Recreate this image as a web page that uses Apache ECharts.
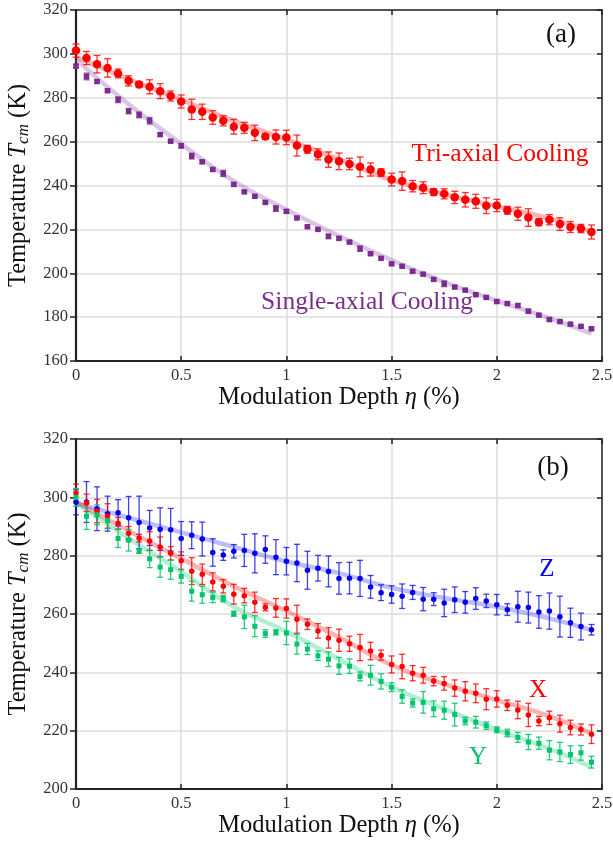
<!DOCTYPE html>
<html>
<head>
<meta charset="utf-8">
<script src="https://cdn.jsdelivr.net/npm/echarts@6/dist/echarts.min.js"></script>
<style>
  html, body { margin: 0; padding: 0; background: #fff; }
  #chart { width: 613px; height: 844px; }
</style>
</head>
<body>
<div id="chart"></div>
<script>
// modulation depth (%)
var depth = [0, 0.05, 0.1, 0.15, 0.2, 0.25, 0.3, 0.35, 0.4, 0.45,
  0.5, 0.55, 0.6, 0.65, 0.7, 0.75, 0.8, 0.85, 0.9, 0.95,
  1, 1.05, 1.1, 1.15, 1.2, 1.25, 1.3, 1.35, 1.4, 1.45,
  1.5, 1.55, 1.6, 1.65, 1.7, 1.75, 1.8, 1.85, 1.9, 1.95,
  2, 2.05, 2.1, 2.15, 2.2, 2.25, 2.3, 2.35, 2.4, 2.45]

// tri-axial cooling (also the X axis curve in (b))
var tempTri = [301.5, 298.1, 295.3, 293.6, 291.1, 287.7, 286, 285, 283, 280.8,
  278.3, 274.7, 273.6, 271, 269.5, 266.8, 266.3, 264, 262.3, 262.1,
  261.9, 258.2, 256.5, 254.2, 251.8, 251, 249.8, 248.5, 247.3, 245.9,
  242.7, 242, 239.7, 239, 237, 236.2, 234.6, 233.5, 232.8, 230.8,
  230.9, 228.7, 227.1, 225.4, 223.3, 224.4, 222.4, 221.1, 220.4, 218.8]
var errTri = [3, 3, 4, 4.2, 2, 2.3, 1.3, 3.2, 3.4, 2.3,
  3, 4.6, 3.5, 3.1, 2.3, 3.4, 2.5, 3.5, 1.2, 3.2,
  3.3, 4.8, 1.8, 2.5, 3.5, 3.8, 2.6, 4.5, 3, 1.7,
  2.9, 4.2, 2.6, 2.7, 1.6, 2.3, 2.8, 3.3, 3.2, 3.6,
  2.8, 1.8, 3, 4, 1.6, 2.3, 2.9, 2.5, 1.9, 3.2]

// single-axial cooling
var tempSingle = [294.4, 289.7, 287.4, 283.2, 279.1, 273.9, 272.2, 269.5, 263.2, 260.2,
  258.1, 253.4, 250.8, 247.3, 245.5, 240.5, 237.1, 235.1, 232.3, 229.5,
  228.2, 225.2, 221.2, 220, 216.8, 215.9, 214.2, 211.2, 208.9, 206.8,
  204.3, 203.2, 200.9, 199.6, 197.2, 195.2, 193.7, 192.3, 190.2, 189,
  187.1, 186.2, 185.3, 182.7, 180.9, 178.9, 178, 176.8, 175.8, 174.7]
var errSingle = [0.8, 1.5, 0.6, 0.6, 1.3, 1.2, 1.3, 1.5, 0.7, 0.6,
  1, 1.3, 0.7, 0.6, 1.4, 0.8, 0.6, 0.5, 0.6, 1.3,
  0.8, 0.6, 0.5, 0.5, 1, 0.6, 0.5, 1.2, 0.6, 0.5,
  0.5, 0.5, 0.6, 0.6, 0.5, 1.3, 0.6, 0.5, 0.5, 0.5,
  0.5, 0.5, 0.8, 0.9, 0.5, 0.5, 0.5, 0.5, 0.5, 0.5]

// Z axis
var tempZ = [298.3, 298.4, 296.1, 294.4, 294.7, 293, 291.4, 289.5, 289.1, 288.9,
  285.9, 287, 285.7, 281.1, 280.2, 281.5, 281.8, 280.8, 282.1, 279.5,
  278.1, 277.5, 275, 275.7, 274.6, 272.2, 272.3, 272.2, 269.3, 267.3,
  266.7, 266.1, 267.4, 265.1, 265.1, 263.8, 264.9, 264, 265.3, 264.5,
  263.2, 261.5, 262.5, 262.2, 260.7, 261, 259.1, 257, 255.7, 254.6]
var errZ = [4.3, 7, 7.5, 6, 4.5, 7.3, 9, 6, 7.3, 7.3,
  5.8, 4.6, 5.8, 4.7, 1.8, 2.3, 5.5, 6.7, 4.7, 6,
  4.7, 6.4, 6.5, 4.4, 5.3, 5.4, 5.4, 6.2, 3.9, 2.7,
  3, 4.2, 2.4, 4, 2.2, 4.7, 4.4, 3.7, 3.7, 2.3,
  3.5, 2, 5.3, 5.3, 5.6, 6.2, 7, 5, 4.6, 1.8]

// Y axis
var tempY = [300, 293.5, 294, 292, 285.9, 285.3, 281.6, 278.9, 276.1, 275.2,
  272.9, 267.8, 266.6, 265.7, 265.3, 260.1, 259, 255.8, 253.3, 253.7,
  253.5, 249.7, 248, 245.7, 244.5, 242.2, 242.1, 238.6, 239, 236.9,
  234.9, 231.7, 229.5, 229.7, 227.5, 227, 225.5, 223.3, 222.9, 221.7,
  220.3, 219.2, 217.7, 216.1, 215.7, 213.3, 212.7, 211.8, 212.4, 209.2]
var errY = [3, 4.5, 3.4, 2.7, 3.1, 3.7, 0.8, 3, 3.5, 3.3,
  2.3, 3.4, 2.9, 1.8, 1.1, 0.9, 4, 3.6, 1.3, 0.9,
  4, 3.4, 1.9, 1.6, 2.5, 2.9, 2.5, 1.5, 3.4, 2.6,
  1.5, 2.3, 1.4, 3.7, 2.7, 3.1, 3.9, 1.3, 2, 1.3,
  1, 1.3, 1.7, 2.6, 2.1, 3.3, 3.3, 3, 2.5, 2]

// fitted curves
var fitDepth = [0, 0.25, 0.5, 0.75, 1, 1.25, 1.5, 1.75, 2, 2.25, 2.45]
var fitTri = [298.5, 288.5, 279, 269.5, 261, 252, 242.5, 236, 230.5, 225, 219]
var fitSingle = [297.5, 277, 259, 242, 229, 217, 206, 196, 187.5, 179.5, 172.5]
var fitZ = [298, 293, 288, 283, 278, 274, 269, 265.5, 262.5, 258.5, 254.5]
var fitY = [298, 286, 274.5, 262.5, 254, 244.5, 235, 227.5, 220.3, 213.8, 207.5]

var FONT = '"Liberation Serif", "DejaVu Serif", serif'

function pairs(xs, ys) {
  return xs.map(function (x, i) { return [x, ys[i]] })
}

function errorSeries(idx, vals, errs, color, cap) {
  return {
    type: 'custom',
    xAxisIndex: idx,
    yAxisIndex: idx,
    z: 3,
    silent: true,
    data: depth.map(function (d, i) { return [d, vals[i] - errs[i], vals[i] + errs[i]] }),
    encode: {x: 0, y: [1, 2]},
    renderItem: function (params, api) {
      var x = api.value(0)
      var lo = api.coord([x, api.value(1)])
      var hi = api.coord([x, api.value(2)])
      var st = {stroke: color, lineWidth: 1.3}
      return {
        type: 'group',
        children: [
          {type: 'line', shape: {x1: lo[0], y1: lo[1], x2: hi[0], y2: hi[1]}, style: st},
          {type: 'line', shape: {x1: lo[0] - cap / 2, y1: lo[1], x2: lo[0] + cap / 2, y2: lo[1]}, style: st},
          {type: 'line', shape: {x1: hi[0] - cap / 2, y1: hi[1], x2: hi[0] + cap / 2, y2: hi[1]}, style: st}
        ]
      }
    }
  }
}

function fitSeries(idx, ys, color) {
  return {
    type: 'line', xAxisIndex: idx, yAxisIndex: idx, z: 2,
    smooth: true, showSymbol: false, silent: true,
    data: pairs(fitDepth, ys),
    lineStyle: {color: color, width: 4.5}
  }
}

function pointSeries(idx, ys, color, symbol, size) {
  return {
    type: 'scatter', xAxisIndex: idx, yAxisIndex: idx, z: 4,
    symbol: symbol, symbolSize: size, silent: true,
    data: pairs(depth, ys),
    itemStyle: {color: color, opacity: 1}
  }
}

var axisText = {fontFamily: FONT, fontSize: 16.5, color: '#333'}
var splitLine = {show: true, lineStyle: {color: '#dcdcdc', width: 1.5}}

function bottomX(idx) {
  return {
    type: 'value', gridIndex: idx, min: 0, max: 2.5, interval: 0.5, position: 'bottom',
    name: '{a|Modulation Depth }{i|η}{a| (%)}',
    nameLocation: 'middle', nameGap: 21,
    nameTextStyle: {rich: {
      a: {fontFamily: FONT, fontSize: 24.5, color: '#111'},
      i: {fontFamily: FONT, fontSize: 24.5, fontStyle: 'italic', color: '#111'}
    }},
    axisLine: {show: true, onZero: false, lineStyle: {color: '#222', width: 2.2}},
    axisTick: {show: true, inside: true, length: 5, lineStyle: {color: '#222', width: 1.5}},
    axisLabel: Object.assign({margin: 6}, axisText),
    splitLine: splitLine
  }
}

function topX(idx) {
  return {
    type: 'value', gridIndex: idx, min: 0, max: 2.5, interval: 0.5, position: 'top',
    axisLine: {show: true, onZero: false, lineStyle: {color: '#222', width: 1.5}},
    axisTick: {show: true, inside: true, length: 5, lineStyle: {color: '#222', width: 1.5}},
    axisLabel: {show: false},
    splitLine: {show: false}
  }
}

function leftY(idx, min, max) {
  return {
    type: 'value', gridIndex: idx, min: min, max: max, interval: 20, position: 'left',
    name: '{a|Temperature }{i|T}{s|cm}{a| (K)}',
    nameLocation: 'middle', nameGap: 44, nameRotate: 90,
    nameTextStyle: {rich: {
      a: {fontFamily: FONT, fontSize: 24.5, color: '#111'},
      i: {fontFamily: FONT, fontSize: 24.5, fontStyle: 'italic', color: '#111'},
      s: {fontFamily: FONT, fontSize: 17, fontStyle: 'italic', color: '#111', padding: [9, 0, 0, 0]}
    }},
    axisLine: {show: true, onZero: false, lineStyle: {color: '#222', width: 2.2}},
    axisTick: {show: true, inside: false, length: 6, lineStyle: {color: '#222', width: 1.5}},
    axisLabel: Object.assign({margin: 8}, axisText),
    splitLine: splitLine
  }
}

function rightY(idx, min, max) {
  return {
    type: 'value', gridIndex: idx, min: min, max: max, interval: 20, position: 'right',
    axisLine: {show: true, onZero: false, lineStyle: {color: '#222', width: 1.5}},
    axisTick: {show: true, inside: true, length: 5, lineStyle: {color: '#222', width: 1.5}},
    axisLabel: {show: false},
    splitLine: {show: false}
  }
}

function label(text, x, y, color, size) {
  return {
    type: 'text', x: x, y: y, z: 10,
    style: {text: text, fill: color, font: size + 'px ' + FONT, align: 'center', verticalAlign: 'middle'}
  }
}

var chart = echarts.init(document.getElementById('chart'))

var option = {
  backgroundColor: '#fff',
  animation: false,
  grid: [
    {left: 76, top: 10, width: 526, height: 351, containLabel: false, outerBoundsMode: 'none'},
    {left: 76, top: 439, width: 526, height: 350, containLabel: false, outerBoundsMode: 'none'}
  ],
  xAxis: [bottomX(0), bottomX(1), topX(0), topX(1)],
  yAxis: [leftY(0, 160, 320), leftY(1, 200, 320), rightY(0, 160, 320), rightY(1, 200, 320)],
  graphic: [
    label('(a)', 561, 35, '#111', 27),
    label('Tri-axial Cooling', 500, 154, '#ff0000', 25.5),
    label('Single-axial Cooling', 367, 302, '#7b2c8f', 25.5),
    label('(b)', 553, 468, '#111', 27),
    label('Z', 547, 569, '#0000ee', 25),
    label('X', 538, 690, '#ff0000', 25),
    label('Y', 478, 757, '#00c46a', 25)
  ],
  series: [
    // (a)
    fitSeries(0, fitTri, 'rgba(255,0,0,0.3)'),
    fitSeries(0, fitSingle, 'rgba(150,90,180,0.35)'),
    errorSeries(0, tempTri, errTri, 'rgba(255,0,0,0.8)', 7),
    errorSeries(0, tempSingle, errSingle, 'rgba(123,44,143,0.8)', 6),
    pointSeries(0, tempTri, '#ff0000', 'circle', 8.5),
    pointSeries(0, tempSingle, '#7b2c8f', 'rect', 5.5),
    // (b)
    fitSeries(1, fitZ, 'rgba(70,70,255,0.35)'),
    fitSeries(1, fitTri, 'rgba(255,0,0,0.3)'),
    fitSeries(1, fitY, 'rgba(0,200,110,0.3)'),
    errorSeries(1, tempZ, errZ, 'rgba(20,20,230,0.8)', 6),
    errorSeries(1, tempTri, errTri, 'rgba(255,0,0,0.8)', 6),
    errorSeries(1, tempY, errY, 'rgba(0,196,106,0.85)', 6),
    pointSeries(1, tempZ, '#0000ee', 'circle', 5.5),
    pointSeries(1, tempTri, '#ff0000', 'circle', 5.5),
    pointSeries(1, tempY, '#00c46a', 'rect', 5)
  ]
}

chart.setOption(option)
</script>
</body>
</html>
